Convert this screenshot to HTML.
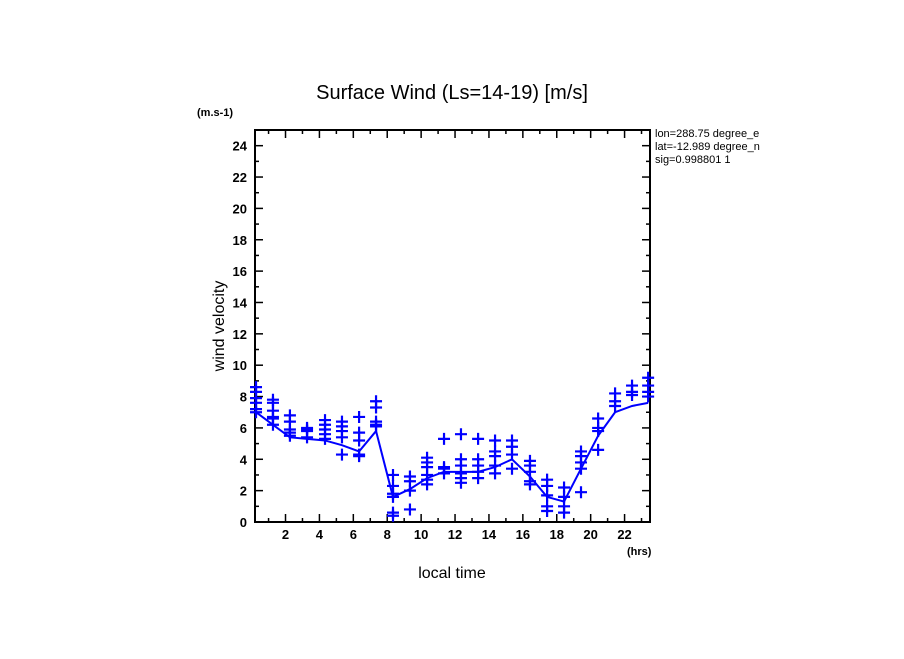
<!DOCTYPE html>
<html><head><meta charset="utf-8"><style>
body{margin:0;background:#fff;width:904px;height:654px;overflow:hidden;font-family:"Liberation Sans",sans-serif}
</style></head><body>
<svg width="904" height="654" viewBox="0 0 904 654" xmlns="http://www.w3.org/2000/svg">
<text x="452" y="99" font-size="20" text-anchor="middle" font-family="Liberation Sans, sans-serif">Surface Wind  (Ls=14-19) [m/s]</text>
<text x="197" y="116" font-size="11" font-weight="bold" font-family="Liberation Sans, sans-serif">(m.s-1)</text>
<text x="627" y="555" font-size="11" font-weight="bold" font-family="Liberation Sans, sans-serif">(hrs)</text>
<text x="452" y="578" font-size="16" text-anchor="middle" font-family="Liberation Sans, sans-serif">local time</text>
<text x="224" y="326" font-size="16" text-anchor="middle" transform="rotate(-90 224 326)" font-family="Liberation Sans, sans-serif">wind velocity</text>
<svg x="655" y="126" width="125" height="45">
<text x="0" y="11" font-size="11" font-family="Liberation Sans, sans-serif">lon=288.75 degree_e</text>
<text x="0" y="24" font-size="11" font-family="Liberation Sans, sans-serif">lat=-12.989 degree_n</text>
<text x="0" y="37" font-size="11" font-family="Liberation Sans, sans-serif">sig=0.998801 1</text>
</svg>
<g id="axes"></g>
<g id="marks"></g>
</svg>
<script>
const times=[0.26,1.26,2.26,3.27,4.33,5.33,6.34,7.34,8.34,9.34,10.35,11.35,12.35,13.36,14.36,15.36,16.42,17.43,18.43,19.43,20.44,21.44,22.44,23.39];
const meanWind=[7.0,6.2,5.4,5.3,5.2,4.9,4.5,5.8,1.6,2.1,2.8,3.2,3.2,3.2,3.5,4.0,2.9,1.6,1.3,3.4,5.5,7.0,7.4,7.6];
const samples=[
[8.6,8.3,7.9,7.6,7.2,7.0],[7.8,7.6,7.1,6.7,6.6,6.2],[6.8,6.4,5.9,5.7,5.5],[6.0,5.9,5.8,5.4],
[6.5,6.2,5.9,5.6,5.3],[6.4,6.1,5.8,5.4,4.3],[6.7,5.7,5.2,4.3,4.2],[7.7,7.3,6.4,6.2,6.1],
[3.0,2.3,1.8,1.6,0.6,0.4],[2.9,2.6,2.0,0.8],[4.1,3.8,3.5,3.0,2.7,2.4],[5.3,3.5,3.4,3.1],
[5.6,4.0,3.6,3.1,2.8,2.5],[5.3,4.0,3.6,3.2,2.8],[5.2,4.5,4.2,3.6,3.1],[5.2,4.8,4.3,3.4],
[3.9,3.6,3.2,2.6,2.4],[2.7,2.3,1.7,1.0,0.7],[2.2,1.6,1.0,0.6],[4.5,4.2,3.8,3.4,1.9],
[6.6,6.0,5.8,4.6],[8.2,7.7,7.4],[8.7,8.3,8.1],[9.2,8.7,8.3,8.0]];
const yTicks=[0,2,4,6,8,10,12,14,16,18,20,22,24];
const xTicks=[2,4,6,8,10,12,14,16,18,20,22];
const X0=255,X1=650,Y0=522,Y1=130,XMIN=0.2,XMAX=23.5,YMIN=0,YMAX=25;
const sx=t=>X0+(t-XMIN)/(XMAX-XMIN)*(X1-X0);
const sy=v=>Y0-(v-YMIN)/(YMAX-YMIN)*(Y0-Y1);
const NS="http://www.w3.org/2000/svg";
function mk(tag,attrs,parent){const e=document.createElementNS(NS,tag);for(const k in attrs)e.setAttribute(k,attrs[k]);parent.appendChild(e);return e;}
const ax=document.getElementById('axes'),mg=document.getElementById('marks');
const fr=mk('rect',{x:X0,y:Y1,width:X1-X0,height:Y0-Y1,fill:'none',stroke:'#000','stroke-width':2},ax);


for(let v=1;v<YMAX;v++){const maj=v%2===0;
 mk('line',{x1:X0,x2:X0+(maj?8:4),y1:sy(v),y2:sy(v),stroke:'#000','stroke-width':1.5},ax);
 mk('line',{x1:X1,x2:X1-(maj?8:4),y1:sy(v),y2:sy(v),stroke:'#000','stroke-width':1.5},ax);}
yTicks.forEach(v=>{const t=mk('text',{x:X0-8,y:sy(v)+5,'font-size':13,'font-weight':'bold','text-anchor':'end','font-family':'Liberation Sans, sans-serif'},ax);t.textContent=v;
 
 });
for(let h=1;h<=23;h++){const maj=h%2===0;
 mk('line',{x1:sx(h),x2:sx(h),y1:Y0,y2:Y0-(maj?8:4),stroke:'#000','stroke-width':1.5},ax);
 mk('line',{x1:sx(h),x2:sx(h),y1:Y1,y2:Y1+(maj?8:4),stroke:'#000','stroke-width':1.5},ax);}
xTicks.forEach(h=>{const t=mk('text',{x:sx(h),y:Y0+17,'font-size':13,'font-weight':'bold','text-anchor':'middle','font-family':'Liberation Sans, sans-serif'},ax);t.textContent=h;
 
 });
const pl=mk('polyline',{points:times.map((t,i)=>sx(t)+','+sy(meanWind[i])).join(' '),fill:'none',stroke:'#0000ff','stroke-width':2},mg);


samples.forEach((col,i)=>col.forEach(v=>{const x=sx(times[i]),y=sy(v);
 const p=mk('path',{d:`M${x-6},${y}H${x+6}M${x},${y-6}V${y+6}`,stroke:'#0000ff','stroke-width':2.2},mg);
 
 }));
</script>
</body></html>
